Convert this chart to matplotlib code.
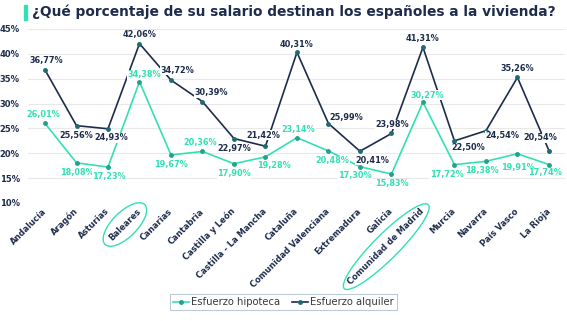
import numpy as np
import matplotlib.pyplot as plt
from matplotlib.patches import Ellipse, Rectangle
from matplotlib.transforms import IdentityTransform

regiones = ['Andalucía', 'Aragón', 'Asturias', 'Baleares', 'Canarias', 'Cantabria',
            'Castilla y León', 'Castilla - La Mancha', 'Cataluña', 'Comunidad Valenciana',
            'Extremadura', 'Galicia', 'Comunidad de Madrid', 'Murcia', 'Navarra',
            'País Vasco', 'La Rioja']
hipoteca = [26.01, 18.08, 17.23, 34.38, 19.67, 20.36, 17.90, 19.28, 23.14, 20.48,
            17.30, 15.83, 30.27, 17.72, 18.38, 19.91, 17.74]
alquiler = [36.77, 25.56, 24.93, 42.06, 34.72, 30.39, 22.97, 21.42, 40.31, 25.99,
            20.41, 23.98, 41.31, 22.50, 24.54, 35.26, 20.54]
y_ticks = [10, 15, 20, 25, 30, 35, 40, 45]
destacadas = ['Baleares', 'Comunidad de Madrid']

# label offsets (pixels, image direction: +dy = down)
off_alq = [(1, -9), (0, 9.5), (3, 9), (0, -9), (6, -10), (9, -9), (0, 10), (-2, -11),
           (0, -8), (18, -6), (12, 9), (1, -9), (0, -9), (14, 7), (16, 5), (0, -8.5),
           (-9, -13)]
off_hip = [(-2, -8.5), (0, 10), (1, 9), (5, -7), (0, 10), (-2, -9), (0, 10), (8, 9),
           (1, -8), (4, 10), (-5, 9), (0, 9.5), (4, -7), (-8, 10), (-4, 9.5), (0, 13.5),
           (-4, 8)]

NAVY = '#1e2c4c'
TEAL = '#33e0b4'
FONT = 'DejaVu Sans'

plt.rcParams['font.family'] = FONT

fig = plt.figure(figsize=(5.67, 3.21), dpi=100)
ax = fig.add_axes([28 / 567, 1 - 203 / 321, 537 / 567, 174 / 321])

x = np.arange(len(regiones))
ax.plot(x, hipoteca, color=TEAL, lw=1.2, marker='o', ms=2.5, mfc='#23a08f', mec='#23a08f',
        label='Esfuerzo hipoteca', zorder=3)
ax.plot(x, alquiler, color=NAVY, lw=1.2, marker='o', ms=2.5, mfc='#1f6b73', mec='#1f6b73',
        label='Esfuerzo alquiler', zorder=3)

for xi, v, (dx, dy) in zip(x, alquiler, off_alq):
    ax.annotate(f'{v:.2f}%'.replace('.', ','), (xi, v), xytext=(dx, -dy),
                textcoords='offset pixels', ha='center', va='center', fontsize=5.9,
                fontweight='bold', color=NAVY, zorder=4,
                bbox=dict(boxstyle='square,pad=0.05', fc='white', ec='none'))
for xi, v, (dx, dy) in zip(x, hipoteca, off_hip):
    ax.annotate(f'{v:.2f}%'.replace('.', ','), (xi, v), xytext=(dx, -dy),
                textcoords='offset pixels', ha='center', va='center', fontsize=5.9,
                fontweight='bold', color=TEAL, zorder=4,
                bbox=dict(boxstyle='square,pad=0.05', fc='white', ec='none'))

ax.set_xlim(-0.54, 16.51)
ax.set_ylim(10, 45)
ax.set_yticks(y_ticks)
ax.set_yticklabels([f'{t}%' for t in y_ticks], fontsize=6, fontweight='bold', color=NAVY)
ax.set_xticks(x)
ax.set_xticklabels(regiones, rotation=45, ha='right', va='center', rotation_mode='anchor',
                   fontsize=6, fontweight='bold', color=NAVY)
ax.tick_params(axis='both', length=0)
ax.tick_params(axis='x', pad=5)
ax.tick_params(axis='y', pad=6)
ax.grid(axis='y', color='#e8e8e8', lw=0.8)
ax.set_axisbelow(True)
for s in ax.spines.values():
    s.set_visible(False)

leg = ax.legend(loc='center', bbox_to_anchor=(283.5 / 567, 1 - 302 / 321),
                bbox_transform=fig.transFigure, ncol=2, fontsize=7.2, frameon=True,
                fancybox=False, edgecolor='#a9bfcc', handlelength=1.6, handletextpad=0.2,
                columnspacing=1.2, borderpad=0.3, labelcolor='#3a3a3a')
leg.get_frame().set_linewidth(0.8)

fig.text(32 / 567, 1 - 12 / 321, '¿Qué porcentaje de su salario destinan los españoles a la vivienda?',
         fontsize=9.95, fontweight='bold', color=NAVY, va='center', ha='left')
fig.patches.append(Rectangle((24 / 567, 1 - 20 / 321), 2.5 / 567, 15 / 321,
                             transform=fig.transFigure, color=TEAL))

# ellipses around highlighted region labels
fig.canvas.draw()
renderer = fig.canvas.get_renderer()
for lab in ax.get_xticklabels():
    if lab.get_text() in destacadas:
        bb = lab.get_window_extent(renderer)
        h = 8
        length = bb.width * np.sqrt(2) - h
        e = Ellipse((bb.x0 + bb.width / 2, bb.y0 + bb.height / 2), length + 14, 25,
                    angle=45, transform=IdentityTransform(), fill=False, ec=TEAL, lw=1)
        fig.patches.append(e)

fig.savefig('out.png', dpi=100)
